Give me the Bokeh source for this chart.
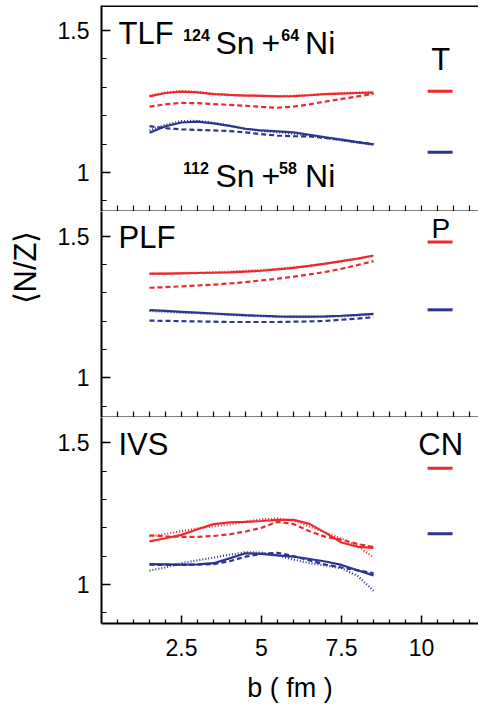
import math
from bokeh.plotting import figure
from bokeh.layouts import column, row
from bokeh.models import FixedTicker, CustomJSTickFormatter, Label, Span, Range1d
from bokeh.embed import file_html
from bokeh.resources import INLINE

# impact parameter grid (fm)
b = [1.5, 2.0, 2.5, 3.0, 3.5, 4.0, 4.5, 5.0, 5.5, 6.0, 6.5, 7.0, 7.5, 8.0, 8.5]

# TLF panel
tlf_red_solid = [1.268, 1.280, 1.285, 1.282, 1.276, 1.273, 1.271, 1.270, 1.268, 1.269, 1.272, 1.276, 1.278, 1.280, 1.281]
tlf_red_dotted = [1.270, 1.282, 1.287, 1.284, 1.277, 1.273, 1.271, 1.270, 1.269, 1.270, 1.273, 1.277, 1.280, 1.282, 1.283]
tlf_red_dashed = [1.232, 1.240, 1.245, 1.244, 1.241, 1.238, 1.235, 1.231, 1.228, 1.232, 1.240, 1.250, 1.259, 1.268, 1.277]
tlf_blue_solid = [1.140, 1.163, 1.176, 1.179, 1.173, 1.164, 1.154, 1.148, 1.145, 1.141, 1.133, 1.124, 1.116, 1.107, 1.099]
tlf_blue_dotted = [1.148, 1.168, 1.181, 1.182, 1.175, 1.165, 1.153, 1.146, 1.142, 1.137, 1.130, 1.121, 1.113, 1.105, 1.098]
tlf_blue_dashed = [1.163, 1.156, 1.152, 1.150, 1.148, 1.146, 1.141, 1.135, 1.130, 1.128, 1.127, 1.122, 1.115, 1.107, 1.100]

# PLF panel
plf_red_solid = [1.368, 1.368, 1.369, 1.370, 1.371, 1.372, 1.375, 1.378, 1.383, 1.388, 1.395, 1.403, 1.412, 1.421, 1.432]
plf_red_dotted = [1.367, 1.368, 1.370, 1.371, 1.373, 1.375, 1.378, 1.381, 1.385, 1.390, 1.396, 1.403, 1.411, 1.420, 1.430]
plf_red_dashed = [1.318, 1.320, 1.323, 1.326, 1.329, 1.333, 1.338, 1.344, 1.350, 1.357, 1.365, 1.374, 1.385, 1.398, 1.412]
plf_blue_solid = [1.239, 1.236, 1.233, 1.230, 1.227, 1.224, 1.221, 1.219, 1.217, 1.216, 1.216, 1.217, 1.219, 1.222, 1.226]
plf_blue_dotted = [1.236, 1.233, 1.230, 1.228, 1.225, 1.222, 1.219, 1.217, 1.215, 1.214, 1.214, 1.215, 1.217, 1.220, 1.224]
plf_blue_dashed = [1.202, 1.201, 1.200, 1.199, 1.198, 1.197, 1.197, 1.197, 1.197, 1.198, 1.199, 1.201, 1.205, 1.209, 1.214]

# IVS panel
ivs_red_solid = [1.152, 1.163, 1.175, 1.195, 1.213, 1.219, 1.221, 1.224, 1.228, 1.228, 1.214, 1.182, 1.148, 1.133, 1.129]
ivs_red_dotted = [1.170, 1.178, 1.188, 1.198, 1.205, 1.212, 1.222, 1.230, 1.233, 1.225, 1.205, 1.183, 1.162, 1.135, 1.096]
ivs_red_dashed = [1.173, 1.170, 1.168, 1.168, 1.171, 1.177, 1.187, 1.200, 1.221, 1.213, 1.188, 1.168, 1.158, 1.143, 1.132]
ivs_blue_solid = [1.072, 1.071, 1.070, 1.071, 1.075, 1.092, 1.110, 1.108, 1.103, 1.098, 1.090, 1.081, 1.069, 1.050, 1.032]
ivs_blue_dotted = [1.049, 1.060, 1.075, 1.085, 1.095, 1.105, 1.114, 1.112, 1.103, 1.088, 1.075, 1.067, 1.057, 1.030, 0.978]
ivs_blue_dashed = [1.070, 1.069, 1.069, 1.070, 1.072, 1.082, 1.098, 1.108, 1.112, 1.100, 1.085, 1.070, 1.060, 1.050, 1.040]

# reference N/Z (target, projectile, compound nucleus) for the two systems
ref_labels = ["T", "P", "CN"]
ref_red = [1.286, 1.480, 1.410]
ref_blue = [1.071, 1.240, 1.179]

panel_names = ["TLF", "PLF", "IVS"]
x_ticks = [2.5, 5, 7.5, 10]
x_minor = [0.5, 1.0, 1.5, 2.0, 3.0, 3.5, 4.0, 4.5, 5.5, 6.0, 6.5, 7.0,
           8.0, 8.5, 9.0, 9.5, 10.5, 11.0, 11.5]
y_ticks = [1, 1.5]
y_minor = [0.9, 1.1, 1.2, 1.3, 1.4]

RED = "#ec2a2e"
BLUE = "#2b3590"
FONT = "Liberation Sans"

fmt = CustomJSTickFormatter(code="return tick.toString();")


def make_panel(ylo, yhi, fh, last, top=0):
    p = figure(frame_width=377, frame_height=fh,
               x_range=Range1d(0, 11.78), y_range=Range1d(ylo, yhi),
               output_backend="svg", toolbar_location=None,
               min_border_left=56, min_border_right=0, min_border_top=top,
               min_border_bottom=0)
    p.outline_line_color = None
    p.grid.visible = False
    p.background_fill_color = "white"
    p.border_fill_color = "white"

    xa = p.xaxis[0]
    xa.axis_line_width = 2
    xa.major_tick_in = 8
    xa.major_tick_out = 0
    xa.minor_tick_in = 4
    xa.minor_tick_out = 0
    xa.major_tick_line_width = 1.5
    xa.minor_tick_line_width = 1.2
    if last:
        xa.ticker = FixedTicker(ticks=x_ticks, minor_ticks=x_minor)
        xa.formatter = fmt
        xa.major_label_text_font = FONT
        xa.major_label_text_font_size = "23px"
        xa.major_label_text_color = "black"
        xa.major_label_standoff = 15
        xa.axis_label = "b ( fm )"
        xa.axis_label_text_font = FONT
        xa.axis_label_text_font_size = "27px"
        xa.axis_label_text_font_style = "normal"
        xa.axis_label_text_color = "black"
        xa.axis_label_standoff = 14
    else:
        # tick marks only on the shared boundaries
        xa.ticker = FixedTicker(ticks=[], minor_ticks=sorted(x_minor + x_ticks))
        xa.minor_tick_in = 6
        xa.major_label_standoff = 0

    ya = p.yaxis[0]
    ya.ticker = FixedTicker(ticks=y_ticks, minor_ticks=y_minor)
    ya.formatter = fmt
    ya.axis_line_width = 2
    ya.major_tick_in = 9
    ya.major_tick_out = 0
    ya.minor_tick_in = 5
    ya.minor_tick_out = 0
    ya.major_tick_line_width = 1.5
    ya.minor_tick_line_width = 1.2
    ya.major_label_text_font = FONT
    ya.major_label_text_font_size = "23px"
    ya.major_label_text_color = "black"
    ya.major_label_standoff = 12
    return p


def add_curves(p, rs, rd, rdash, bs, bd, bdash):
    p.line(b, rdash, line_color=RED, line_width=2.2, line_dash="5 3")
    p.line(b, rd, line_color=RED, line_width=2.2, line_dash="1 2")
    p.line(b, rs, line_color=RED, line_width=2.2)
    p.line(b, bdash, line_color=BLUE, line_width=2.2, line_dash="5 3")
    p.line(b, bd, line_color=BLUE, line_width=2.2, line_dash="1 2")
    p.line(b, bs, line_color=BLUE, line_width=2.2)


def add_ref(p, i, label_y, size):
    p.segment(x0=[10.19], x1=[10.97], y0=[ref_red[i]], y1=[ref_red[i]],
              line_color=RED, line_width=3)
    p.segment(x0=[10.19], x1=[10.97], y0=[ref_blue[i]], y1=[ref_blue[i]],
              line_color=BLUE, line_width=3)
    p.add_layout(Label(x=10.6, y=label_y, text=ref_labels[i], text_font=FONT,
                       text_font_size=size, text_align="center",
                       text_baseline="middle", text_color="black"))


def txt(p, x, y, t, size, bold=False):
    p.add_layout(Label(x=x, y=y, text=t, text_font=FONT, text_font_size=size,
                       text_font_style="bold" if bold else "normal",
                       text_align="left", text_baseline="middle",
                       text_color="black"))


p1 = make_panel(0.8627, 1.588, 206, False, top=5)
p2 = make_panel(0.8597, 1.5873, 206, False)
p3 = make_panel(0.8622, 1.5894, 206, True)

p1.add_layout(Span(location=1.588, dimension="width", line_color="black", line_width=3))

add_curves(p1, tlf_red_solid, tlf_red_dotted, tlf_red_dashed,
           tlf_blue_solid, tlf_blue_dotted, tlf_blue_dashed)
add_curves(p2, plf_red_solid, plf_red_dotted, plf_red_dashed,
           plf_blue_solid, plf_blue_dotted, plf_blue_dashed)
add_curves(p3, ivs_red_solid, ivs_red_dotted, ivs_red_dashed,
           ivs_blue_solid, ivs_blue_dotted, ivs_blue_dashed)

add_ref(p1, 0, 1.3979, "31px")
add_ref(p2, 1, 1.5283, "28px")
add_ref(p3, 2, 1.494, "31px")

txt(p1, 0.53, 1.4894, panel_names[0], "31px")
txt(p2, 0.53, 1.4954, panel_names[1], "31px")
txt(p3, 0.53, 1.494, panel_names[2], "31px")

# reaction labels in the TLF panel
txt(p1, 2.55, 1.4824, "124", "16px", True)
txt(p1, 3.56, 1.4577, "Sn", "32px")
txt(p1, 5.0, 1.4577, "+", "32px")
txt(p1, 5.62, 1.4824, "64", "16px", True)
txt(p1, 6.36, 1.4577, "Ni", "32px")

txt(p1, 2.55, 1.0141, "112", "16px", True)
txt(p1, 3.56, 0.9877, "Sn", "32px")
txt(p1, 5.0, 0.9877, "+", "32px")
txt(p1, 5.55, 1.0141, "58", "16px", True)
txt(p1, 6.36, 0.9877, "Ni", "32px")

# strip holding the rotated y-axis title (page pixel coordinates)
H = 705
lab = figure(width=45, height=H, x_range=Range1d(0, 45), y_range=Range1d(H, 0),
             x_axis_type=None, y_axis_type=None, output_backend="svg",
             toolbar_location=None, min_border=0)
lab.outline_line_color = None
lab.grid.visible = False
lab.add_layout(Label(x=25, y=267, text="⟨N/Z⟩", text_font=FONT,
                     text_font_size="31px", angle=math.pi / 2,
                     text_align="center", text_baseline="middle",
                     text_color="black"))

layout = row(lab, column(p1, p2, p3, spacing=0), spacing=0)
open("out.html", "w").write(file_html(layout, INLINE))
